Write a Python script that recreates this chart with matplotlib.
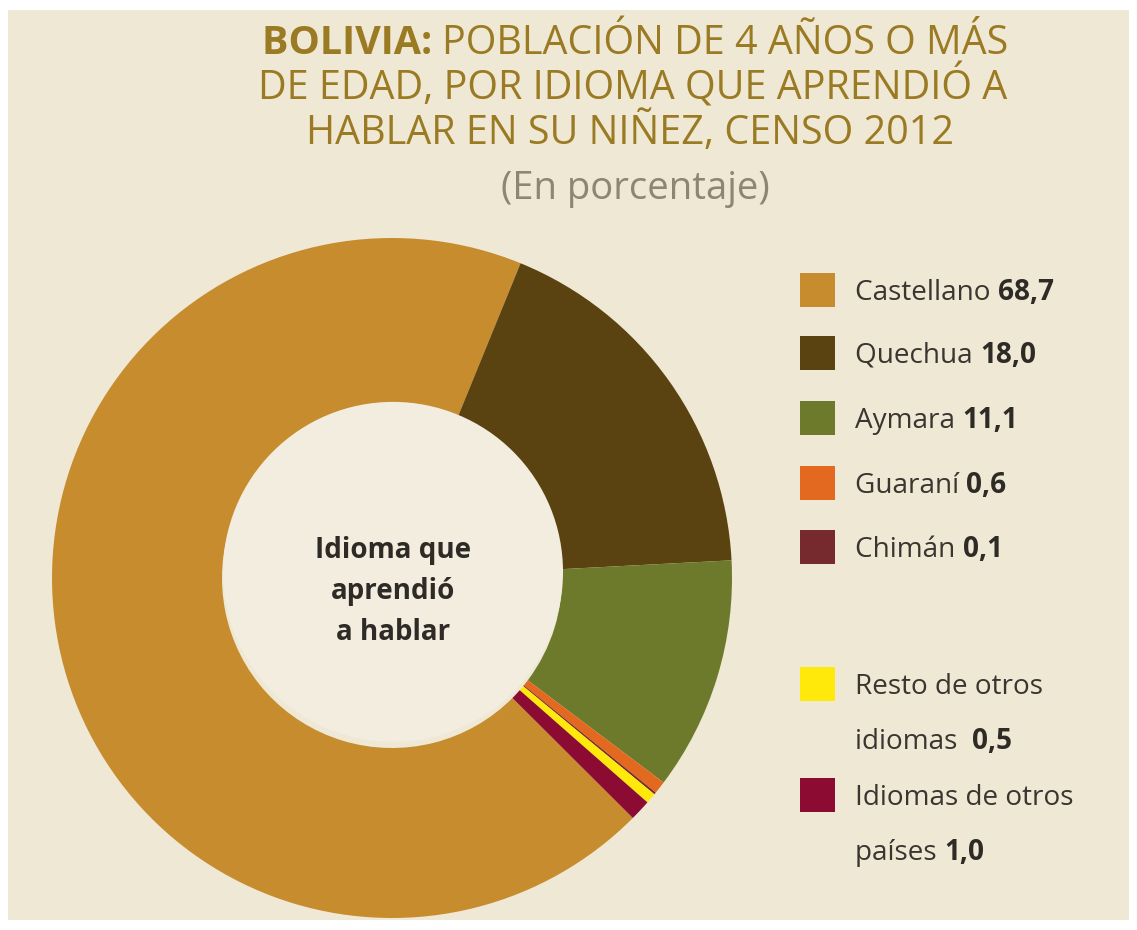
import matplotlib.pyplot as plt
import matplotlib
from matplotlib.patches import Rectangle, Circle
from matplotlib import font_manager
from matplotlib.font_manager import FontProperties
from matplotlib.textpath import TextPath

# fuente condensada parecida a la del original
ttf = font_manager.fontManager.ttflist
candidatas = ["Fira Sans Condensed", "Open Sans Condensed", "Asap Condensed",
              "Barlow Semi Condensed", "Encode Sans Semi Condensed",
              "Roboto Condensed", "IBM Plex Sans Condensed", "Cabin Condensed",
              "PT Sans Narrow", "Source Sans 3", "Source Sans Pro", "Open Sans"]
disponibles = [c for c in candidatas
               if any(f.name == c and f.weight in (700, "bold") and f.style == "normal" for f in ttf)
               and any(f.name == c and f.weight in (400, "normal", "regular") and f.style == "normal" for f in ttf)]


def medidas(fam, texto):
    fp = FontProperties(family=fam)
    ancho_u = TextPath((0, 0), texto, size=1, prop=fp).get_extents().width
    cap_u = TextPath((0, 0), "H", size=1, prop=fp).get_extents().height
    return ancho_u, cap_u


def puntaje(fam):
    a, c = medidas(fam, "DE EDAD, POR IDIOMA QUE APRENDIÓ A")
    return abs(750 * c / a - 29)


fuente = min(disponibles, key=puntaje) if disponibles else "DejaVu Sans"
matplotlib.rcParams['font.family'] = [fuente, 'DejaVu Sans']

# datos (orden de la leyenda)
idiomas = ["Castellano", "Quechua", "Aymara", "Guaraní", "Chimán",
           "Resto de otros\nidiomas ", "Idiomas de otros\npaíses"]
porcentajes = [68.7, 18.0, 11.1, 0.6, 0.1, 0.5, 1.0]
etiquetas = ["68,7", "18,0", "11,1", "0,6", "0,1", "0,5", "1,0"]
colores = ["#C78C2D", "#5B4311", "#6E7A2B", "#E2691F", "#772A2E",
           "#FFE90A", "#8C0B32"]

bg = "#EFE8D4"
W, H = 1137, 930
fig = plt.figure(figsize=(W / 100, H / 100), dpi=100)
fig.patch.set_facecolor("white")
fig.add_artist(Rectangle((8 / W, 10 / H), 1 - 16 / W, 1 - 20 / H,
                         transform=fig.transFigure, facecolor=bg,
                         edgecolor="none", zorder=0))
renderer = fig.canvas.get_renderer()


def ancho(t):
    return t.get_window_extent(renderer).width


def ajustar(texto, objetivo, size=20, **kw):
    t = fig.text(0, 0, texto, fontsize=size, **kw)
    s = size * objetivo / ancho(t)
    t.remove()
    return s


def cap_px(size):
    return medidas(fuente, "H")[1] * size * 100 / 72


# titulo
tc = "#9A7A22"
ts = ajustar("DE EDAD, POR IDIOMA QUE APRENDIÓ A", 750)
half = cap_px(ts) / 2
b = fig.text(0, 1 - (40 + half) / H, "BOLIVIA: ", fontsize=ts,
             fontweight="bold", color=tc, ha="left", va="baseline")
r1 = fig.text(0, 1 - (40 + half) / H, "POBLACIÓN DE 4 AÑOS O MÁS",
              fontsize=ts, color=tc, ha="left", va="baseline")
total = ancho(b) + ancho(r1)
x0 = 635 - total / 2
b.set_x(x0 / W)
r1.set_x((x0 + ancho(b)) / W)
fig.text(633 / W, 1 - (85 + half) / H, "DE EDAD, POR IDIOMA QUE APRENDIÓ A",
         fontsize=ts, color=tc, ha="center", va="baseline")
fig.text(630 / W, 1 - (130 + half) / H, "HABLAR EN SU NIÑEZ, CENSO 2012",
         fontsize=ts, color=tc, ha="center", va="baseline")
ss = ajustar("(En porcentaje)", 268)
fig.text(635 / W, 1 - (185 + cap_px(ss) / 2) / H, "(En porcentaje)",
         fontsize=ss, color="#8F8670", ha="center", va="baseline")

# dona
cx, cy, r = 392, 578, 340
pad = 1.02
ax = fig.add_axes([(cx - r * pad) / W, (H - cy - r * pad) / H,
                   2 * r * pad / W, 2 * r * pad / H])
ax.pie(porcentajes, colors=colores, startangle=-44.9, counterclock=False,
       radius=1, wedgeprops=dict(width=0.5, edgecolor="none"))
ax.add_patch(Circle((0.003, 0.018), 0.5, facecolor="#F2EDDF",
                    edgecolor="none", zorder=5))
cs = ajustar("Idioma que", 156, fontweight="bold")
ax.text(0.003, -0.04, "Idioma que\naprendió\na hablar", ha="center",
        va="center", fontsize=cs, fontweight="bold", color="#2E2A26",
        linespacing=1.55, zorder=6)
ax.set_xlim(-pad, pad)
ax.set_ylim(-pad, pad)
ax.set_aspect("equal")
ax.axis("off")

# leyenda
ls = ajustar("Idiomas de otros", 218)
lh = cap_px(ls) / 2
filas = [290, 353, 418, 483, 547, 684, 795]
for nombre, val, col, y in zip(idiomas, etiquetas, colores, filas):
    fig.add_artist(Rectangle((800 / W, 1 - (y + 17) / H), 35 / W, 34 / H,
                             transform=fig.transFigure, facecolor=col,
                             edgecolor="none"))
    lineas = nombre.split("\n")
    yl = y
    if len(lineas) == 2:
        fig.text(855 / W, 1 - (y + lh) / H, lineas[0], fontsize=ls,
                 color="#3A3530", ha="left", va="baseline")
        yl = y + 55
    t = fig.text(855 / W, 1 - (yl + lh) / H, lineas[-1] + " ", fontsize=ls,
                 color="#3A3530", ha="left", va="baseline")
    fig.text((855 + ancho(t)) / W, 1 - (yl + lh) / H, val, fontsize=ls,
             fontweight="bold", color="#2E2A26", ha="left", va="baseline")

fig.savefig("out.png", dpi=100, facecolor=fig.get_facecolor())
